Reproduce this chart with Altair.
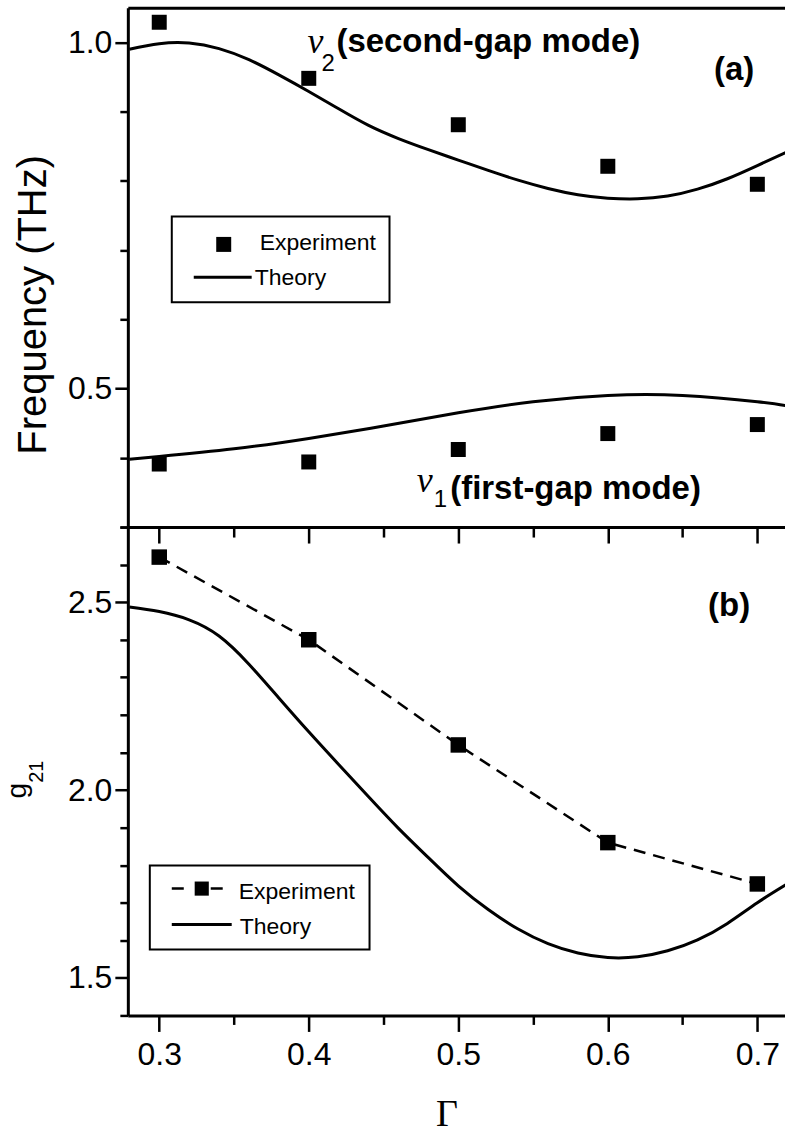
import altair as alt
import pandas as pd

# ---------------- measured points ----------------
gamma_exp = [0.3, 0.4, 0.5, 0.6, 0.7]
nu2_exp = [1.029, 0.948, 0.881, 0.821, 0.795]   # THz, second-gap mode
nu1_exp = [0.391, 0.394, 0.412, 0.435, 0.448]   # THz, first-gap mode
g21_exp = [2.62, 2.40, 2.12, 1.86, 1.75]

# ---------------- theory curves ----------------
gamma_nu2_th = [0.28, 0.30, 0.32, 0.34, 0.36, 0.38, 0.40, 0.42, 0.44, 0.46, 0.48, 0.50,
                0.52, 0.54, 0.56, 0.58, 0.60, 0.62, 0.64, 0.66, 0.68, 0.70, 0.72]
nu2_th = [0.990, 0.998, 0.999, 0.991, 0.975, 0.953, 0.929, 0.904, 0.880, 0.861, 0.845, 0.830,
          0.815, 0.801, 0.789, 0.780, 0.775, 0.774, 0.778, 0.788, 0.803, 0.822, 0.842]

gamma_nu1_th = [0.28, 0.30, 0.35, 0.40, 0.45, 0.50, 0.55, 0.60, 0.65, 0.70, 0.72]
nu1_th = [0.398, 0.402, 0.413, 0.428, 0.446, 0.465, 0.481, 0.490, 0.490, 0.481, 0.475]

gamma_g_th = [0.28, 0.30, 0.32, 0.34, 0.36, 0.38, 0.40, 0.42, 0.44, 0.46, 0.48, 0.50,
              0.52, 0.54, 0.56, 0.58, 0.60, 0.62, 0.64, 0.66, 0.68, 0.70, 0.72]
g21_th = [2.487, 2.475, 2.453, 2.410, 2.335, 2.245, 2.155, 2.068, 1.982, 1.898, 1.820, 1.745,
          1.682, 1.630, 1.591, 1.566, 1.554, 1.556, 1.572, 1.601, 1.645, 1.700, 1.750]

# ---------------- ticks and labels ----------------
x_major = [0.3, 0.4, 0.5, 0.6, 0.7]
x_minor = [0.35, 0.45, 0.55, 0.65]
ya_major = [0.5, 1.0]
ya_minor = [0.3, 0.4, 0.6, 0.7, 0.8, 0.9]
yb_major = [1.5, 2.0, 2.5]
yb_minor = [1.4, 1.6, 1.7, 1.8, 1.9, 2.1, 2.2, 2.3, 2.4, 2.6, 2.7]

legend_labels = ["Experiment", "Theory"]
mode_names = ["(second-gap mode)", "(first-gap mode)"]
mode_symbol = ["\u03bd", "\u03bd"]
mode_index = ["2", "1"]

# annotation anchors in data units (Γ, THz)
mode_gamma = [0.4185, 0.4946]
mode_freq = [0.986, 0.340]
sym_gamma = [0.4045, 0.4775]
sym_freq = [0.985, 0.350]
idx_gamma = [0.413, 0.488]
idx_freq = [0.958, 0.329]

SANS = "Liberation Sans"
SERIF = "Liberation Serif"
W, HA, HB = 658, 520, 489

x_scale = alt.Scale(domain=[0.279, 0.7185], nice=False, zero=False)
ya_scale = alt.Scale(domain=[0.3, 1.05], nice=False, zero=False)
yb_scale = alt.Scale(domain=[1.4, 2.7], nice=False, zero=False)


def axis(orient, values, tick_size, labels=False, domain=False, ticks=True, **kw):
    return alt.Axis(
        orient=orient, values=values, ticks=ticks, tickSize=tick_size, tickColor="black",
        tickWidth=2.5, labels=labels, labelFont=SANS, labelFontSize=32, labelColor="black",
        format=".1f", domain=domain, domainColor="black", domainWidth=3, grid=False, **kw
    )


def one(label):
    return pd.DataFrame({"label": [label]})


# ======================= panel (a) =======================
theory_a = pd.DataFrame({
    "gamma": gamma_nu2_th + gamma_nu1_th,
    "freq": nu2_th + nu1_th,
    "mode": ["nu2"] * len(nu2_th) + ["nu1"] * len(nu1_th),
})
exp_a = pd.DataFrame({"gamma": gamma_exp * 2, "freq": nu2_exp + nu1_exp})

lines_a = alt.Chart(theory_a).mark_line(
    color="black", strokeWidth=3, interpolate="natural", clip=True
).encode(
    x=alt.X("gamma:Q", scale=x_scale, title=None, axis=axis("bottom", x_major, 16, domain=True)),
    y=alt.Y("freq:Q", scale=ya_scale, title="Frequency (THz)",
            axis=axis("left", ya_major, 13, labels=True, domain=True, labelPadding=3,
                      titleFont=SANS, titleFontSize=40, titleFontWeight="normal",
                      titleColor="black", titleAngle=270, titleAlign="center",
                      titleBaseline="alphabetic", titleX=-82, titleY=297)),
    detail="mode:N",
)

points_a = alt.Chart(exp_a).mark_point(
    shape="square", filled=True, size=225, color="black", opacity=1
).encode(
    x=alt.X("gamma:Q", scale=x_scale, title=None, axis=axis("bottom", x_minor, 10)),
    y=alt.Y("freq:Q", scale=ya_scale, title=None, axis=axis("left", ya_minor, 8)),
)

modes = pd.DataFrame({"gamma": mode_gamma, "freq": mode_freq, "t": mode_names})
syms = pd.DataFrame({"gamma": sym_gamma, "freq": sym_freq, "t": mode_symbol})
idxs = pd.DataFrame({"gamma": idx_gamma, "freq": idx_freq, "t": mode_index})

mode_text = alt.Chart(modes).mark_text(
    font=SANS, fontSize=33, fontWeight="bold", align="left", baseline="alphabetic", color="black"
).encode(
    x=alt.X("gamma:Q", scale=x_scale, title=None,
            axis=axis("top", [], 0, ticks=False, domain=True)),
    y=alt.Y("freq:Q", scale=ya_scale, axis=None),
    text="t:N",
)
sym_text = alt.Chart(syms).mark_text(
    font=SERIF, fontSize=36, fontStyle="italic", align="center", baseline="alphabetic", color="black"
).encode(
    x=alt.X("gamma:Q", scale=x_scale, axis=None),
    y=alt.Y("freq:Q", scale=ya_scale, axis=None),
    text="t:N",
)
idx_text = alt.Chart(idxs).mark_text(
    font=SANS, fontSize=24, align="center", baseline="alphabetic", color="black"
).encode(
    x=alt.X("gamma:Q", scale=x_scale, axis=None),
    y=alt.Y("freq:Q", scale=ya_scale, axis=None),
    text="t:N",
)
tag_a = alt.Chart(one("(a)")).mark_text(
    font=SANS, fontSize=33, fontWeight="bold", align="center", baseline="alphabetic"
).encode(x=alt.value(607), y=alt.value(72), text="label:N")

# legend (a)
leg_a_box = alt.Chart(one("box")).mark_rect(
    fillOpacity=0, stroke="black", strokeWidth=2
).encode(x=alt.value(44), x2=alt.value(262), y=alt.value(209), y2=alt.value(295))
leg_a_sq = alt.Chart(one("sq")).mark_point(
    shape="square", filled=True, size=225, color="black", opacity=1
).encode(x=alt.value(96), y=alt.value(237))
leg_a_line = alt.Chart(one("ln")).mark_rule(color="black", strokeWidth=3).encode(
    x=alt.value(66), x2=alt.value(124), y=alt.value(270))
leg_a_t1 = alt.Chart(one(legend_labels[0])).mark_text(
    font=SANS, fontSize=23, align="left", baseline="alphabetic"
).encode(x=alt.value(132), y=alt.value(243), text="label:N")
leg_a_t2 = alt.Chart(one(legend_labels[1])).mark_text(
    font=SANS, fontSize=23, align="left", baseline="alphabetic"
).encode(x=alt.value(127), y=alt.value(278), text="label:N")

panel_a = alt.layer(
    lines_a, points_a, mode_text, sym_text, idx_text, tag_a,
    leg_a_box, leg_a_sq, leg_a_line, leg_a_t1, leg_a_t2,
).resolve_axis(x="independent", y="independent").properties(width=W, height=HA)

# ======================= panel (b) =======================
theory_b = pd.DataFrame({"gamma": gamma_g_th, "g": g21_th})
exp_b = pd.DataFrame({"gamma": gamma_exp, "g": g21_exp})

lines_b = alt.Chart(theory_b).mark_line(
    color="black", strokeWidth=3, interpolate="natural", clip=True
).encode(
    x=alt.X("gamma:Q", scale=x_scale, title="\u0393",
            axis=axis("bottom", x_major, 16, labels=True, domain=True, labelPadding=8,
                      titleFont=SERIF, titleFontSize=38, titleFontWeight="normal",
                      titleColor="black", titleAlign="center", titleBaseline="alphabetic",
                      titleX=319, titleY=110)),
    y=alt.Y("g:Q", scale=yb_scale, title=None,
            axis=axis("left", yb_major, 13, labels=True, domain=True, labelPadding=3)),
)

dash_b = alt.Chart(exp_b).mark_line(
    color="black", strokeWidth=2.5, strokeDash=[12, 8]
).encode(
    x=alt.X("gamma:Q", scale=x_scale, title=None, axis=axis("bottom", x_minor, 9)),
    y=alt.Y("g:Q", scale=yb_scale, title=None, axis=axis("left", yb_minor, 8)),
)
points_b = alt.Chart(exp_b).mark_point(
    shape="square", filled=True, size=240, color="black", opacity=1
).encode(
    x=alt.X("gamma:Q", scale=x_scale, axis=None),
    y=alt.Y("g:Q", scale=yb_scale, axis=None),
)

tag_b = alt.Chart(one("(b)")).mark_text(
    font=SANS, fontSize=33, fontWeight="bold", align="center", baseline="alphabetic"
).encode(x=alt.value(602), y=alt.value(89), text="label:N")

# y-axis title g21 (letter plus subscript)
g_title = alt.Chart(one("g")).mark_text(
    font=SANS, fontSize=28, angle=270, align="center", baseline="alphabetic"
).encode(x=alt.value(-102), y=alt.value(264), text="label:N")
g_sub = alt.Chart(one("21")).mark_text(
    font=SANS, fontSize=20, angle=270, align="center", baseline="alphabetic"
).encode(x=alt.value(-85), y=alt.value(245), text="label:N")

# legend (b)
leg_b_box = alt.Chart(one("box")).mark_rect(
    fillOpacity=0, stroke="black", strokeWidth=2
).encode(x=alt.value(22), x2=alt.value(242), y=alt.value(339), y2=alt.value(423))
leg_b_dash = alt.Chart(one("dash")).mark_rule(
    color="black", strokeWidth=2.5, strokeDash=[12, 27]
).encode(x=alt.value(44), x2=alt.value(95), y=alt.value(362))
leg_b_sq = alt.Chart(one("sq")).mark_point(
    shape="square", filled=True, size=200, color="black", opacity=1
).encode(x=alt.value(74), y=alt.value(362))
leg_b_line = alt.Chart(one("ln")).mark_rule(color="black", strokeWidth=3).encode(
    x=alt.value(44), x2=alt.value(104), y=alt.value(398))
leg_b_t1 = alt.Chart(one(legend_labels[0])).mark_text(
    font=SANS, fontSize=23, align="left", baseline="alphabetic"
).encode(x=alt.value(111), y=alt.value(372), text="label:N")
leg_b_t2 = alt.Chart(one(legend_labels[1])).mark_text(
    font=SANS, fontSize=23, align="left", baseline="alphabetic"
).encode(x=alt.value(112), y=alt.value(407), text="label:N")

panel_b = alt.layer(
    lines_b, dash_b, points_b, tag_b, g_title, g_sub,
    leg_b_box, leg_b_dash, leg_b_sq, leg_b_line, leg_b_t1, leg_b_t2,
).resolve_axis(x="independent", y="independent").properties(width=W, height=HB)

chart = alt.vconcat(panel_a, panel_b, spacing=0, bounds="flush").configure_view(
    stroke=None
).properties(
    padding={"left": 4, "top": 7, "right": 0, "bottom": 0},
    background="white",
)

chart.save("out.html", embed_options={"renderer": "svg", "actions": False})
